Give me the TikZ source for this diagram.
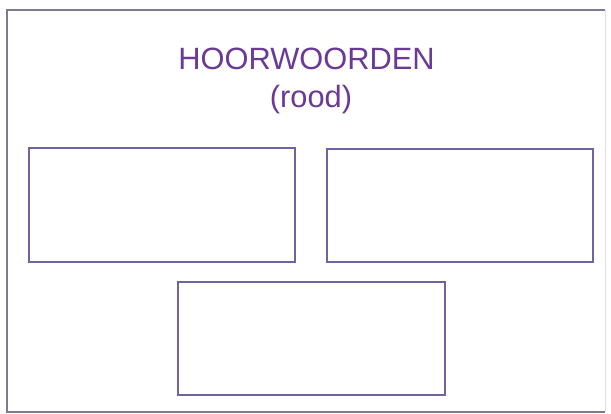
\documentclass[tikz,border=0pt]{standalone}
\usepackage{fontspec}
\setmainfont{Liberation Sans}
\definecolor{txtpurple}{RGB}{106,58,150}
\definecolor{boxline}{RGB}{112,100,160}
\definecolor{frameline}{RGB}{125,122,145}
\definecolor{framefaint}{RGB}{225,222,235}
\begin{document}
\begin{tikzpicture}[x=1pt,y=-1pt,
  answerbox/.style={draw=boxline,line width=1.3pt},
  titletext/.style={text=txtpurple,font=\fontsize{30.8}{36}\selectfont,inner sep=0pt,anchor=base}]
\useasboundingbox (0,0) rectangle (611,414);
\draw[framefaint,line width=1pt] (605,10) -- (605,412);
\draw[frameline,line width=1.4pt] (605,10) -- (7,10) -- (7,412) -- (605,412);
\node[titletext] (title) at (306.5,70) {HOORWOORDEN};
\node[titletext] (sub) at (311,108) {(rood)};
\draw[answerbox] (29,148) rectangle (295,262);
\draw[answerbox] (327,149) rectangle (593,262);
\draw[answerbox] (178,282) rectangle (445,395);
\end{tikzpicture}
\end{document}
